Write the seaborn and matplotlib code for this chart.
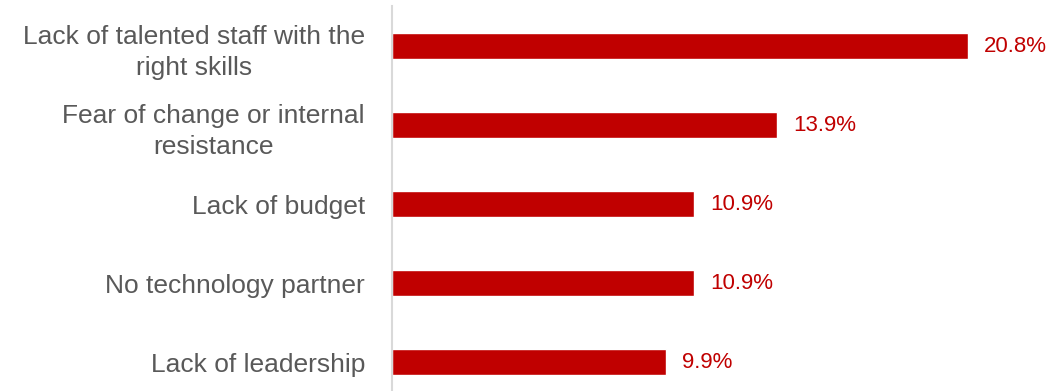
import matplotlib
matplotlib.use("Agg")
import matplotlib.pyplot as plt
import seaborn as sns
import pandas as pd

categories = ["Lack of talented staff with the\nright skills",
              "Fear of change or internal\nresistance",
              "Lack of budget",
              "No technology partner",
              "Lack of leadership"]
values = [20.8, 13.9, 10.9, 10.9, 9.9]
value_labels = ["20.8%", "13.9%", "10.9%", "10.9%", "9.9%"]

sns.set_style("white")
plt.rcParams['font.family'] = ['Liberation Sans', 'DejaVu Sans']

df = pd.DataFrame({"cat": categories, "val": values})

fig = plt.figure(figsize=(10.5, 3.91), dpi=100)
W, H = 1050, 391
ax = fig.add_axes([392 / W, 0, (1050 - 392) / W, (391 - 6.5) / H])
sns.barplot(data=df, x="val", y="cat", color="#C00000", saturation=1, width=0.335, ax=ax, orient="h")
ax.set_xlim(0, (1050 - 392) / 27.7)
ax.set_ylim(4.367, -0.5)
for i, (v, lab) in enumerate(zip(values, value_labels)):
    ax.text(v + 0.58, i, lab, color="#C00000", fontsize=16, va="center", ha="left")
ax.set_xlabel("")
ax.set_ylabel("")
ax.set_xticks([])
ax.tick_params(axis="y", length=0, pad=19.5, labelsize=19, labelcolor="#595959")
for lab in ax.get_yticklabels():
    lab.set_horizontalalignment("right")
    lab.set_multialignment("center")
    lab.set_linespacing(1.4)
for s in ["top", "right", "bottom"]:
    ax.spines[s].set_visible(False)
ax.spines["left"].set_color("#d9d9d9")
ax.spines["left"].set_linewidth(1.5)
fig.savefig("out.png", dpi=100)
